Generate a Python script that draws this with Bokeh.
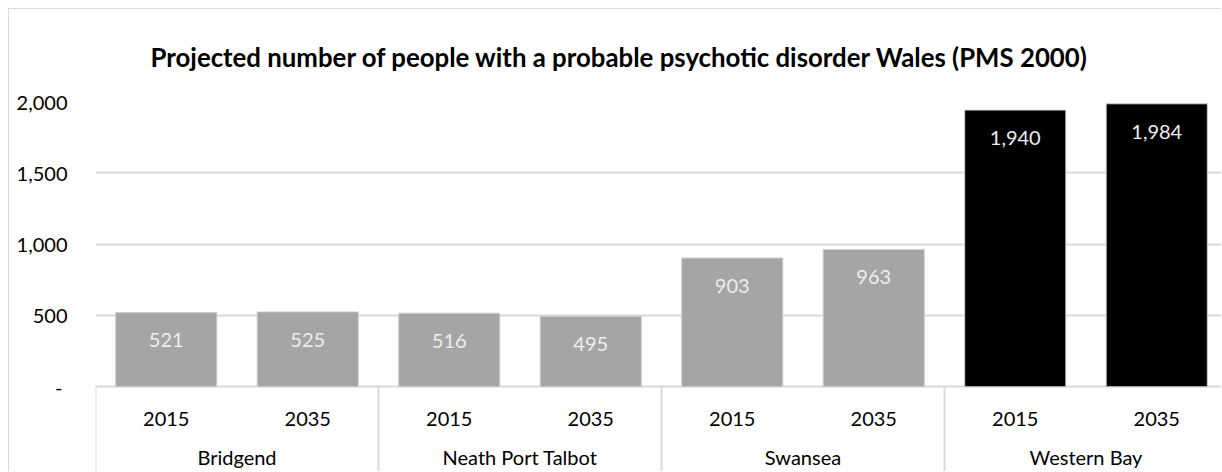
from bokeh.plotting import figure
from bokeh.models import Range1d, FixedTicker, CustomJSTickFormatter, ColumnDataSource
from bokeh.core.properties import value
from bokeh.embed import file_html
from bokeh.resources import INLINE

# ---- data ----
groups = ["Bridgend", "Neath Port Talbot", "Swansea", "Western Bay"]
years = ["2015", "2035"]
values = [521, 525, 516, 495, 903, 963, 1940, 1984]
labels = ["521", "525", "516", "495", "903", "963", "1,940", "1,984"]
y_ticks = [0, 500, 1000, 1500, 2000]
title_text = "Projected number of people with a probable psychotic disorder Wales (PMS 2000)"
highlight_group = "Western Bay"

FONT = "Lato"
GRID = "#d9d9d9"

xs, cols, yrs = [], [], []
k = 0
for gi, g in enumerate(groups):
    for yi, yr in enumerate(years):
        xs.append(k + 0.5)
        cols.append("#000000" if g == highlight_group else "#a5a5a5")
        yrs.append(yr)
        k += 1
n = k

src = ColumnDataSource(dict(x=xs, top=values, color=cols, label=labels, year=yrs))

# frame spans 1127 px of the 1132 px that the 8 category slots need
x_end = n * 1127.0 / 1132.0

p = figure(width=1213, height=463, output_backend="svg", toolbar_location=None,
           x_range=Range1d(0, x_end), y_range=Range1d(-601, 2000),
           min_border_left=86, min_border_right=0, min_border_top=91, min_border_bottom=0,
           title=title_text)
p.styles = {"margin-left": "8px", "margin-top": "8px",
            "border-left": "1px solid #d9d9d9", "border-top": "1px solid #d9d9d9"}
p.outline_line_color = None
p.background_fill_color = "white"
p.border_fill_color = "white"

p.title.align = "left"
p.title.text_font = FONT
p.title.text_font_size = "25.8px"
p.title.text_font_style = "bold"
p.title.text_color = "#000000"
p.title.standoff = 60
p.title.offset = 55

p.xaxis.visible = False
p.xgrid.visible = False

p.yaxis.ticker = FixedTicker(ticks=y_ticks)
p.yaxis.formatter = CustomJSTickFormatter(
    code="return tick == 0 ? '-\\u00a0' : tick.toLocaleString('en-US');")
p.yaxis.axis_line_color = None
p.yaxis.major_tick_line_color = None
p.yaxis.minor_tick_line_color = None
p.yaxis.major_tick_out = 0
p.yaxis.major_tick_in = 0
p.yaxis.major_label_standoff = 28
p.yaxis.major_label_text_font = FONT
p.yaxis.major_label_text_font_size = "20px"
p.yaxis.major_label_text_color = "#000000"
p.ygrid.ticker = FixedTicker(ticks=y_ticks)
p.ygrid.grid_line_color = GRID
p.ygrid.grid_line_width = 2

# separators of the category axis
sep_x = [gi * len(years) for gi in range(len(groups) + 1)]
p.segment(x0=sep_x, x1=sep_x, y0=[0] * len(sep_x), y1=[-601] * len(sep_x),
          line_color=GRID, line_width=2)

p.vbar(x="x", top="top", bottom=0, width=0.715, source=src, fill_color="color",
       line_color="#d0d0d0", line_width=1)

p.text(x="x", y="top", text="label", source=src, text_align="center",
       text_baseline="middle", y_offset=28, text_color="#eeeeee",
       text_font=value(FONT), text_font_size="20px")

p.text(x="x", y=0, text="year", source=src, text_align="center",
       text_baseline="middle", y_offset=32, text_color="#000000",
       text_font=value(FONT), text_font_size="20px")

gx = [gi * len(years) + len(years) / 2 for gi in range(len(groups))]
p.text(x=gx, y=[0] * len(gx), text=groups, text_align="center",
       text_baseline="middle", y_offset=70, text_color="#000000",
       text_font=value(FONT), text_font_size="20px")

open("out.html", "w").write(file_html(p, INLINE))
